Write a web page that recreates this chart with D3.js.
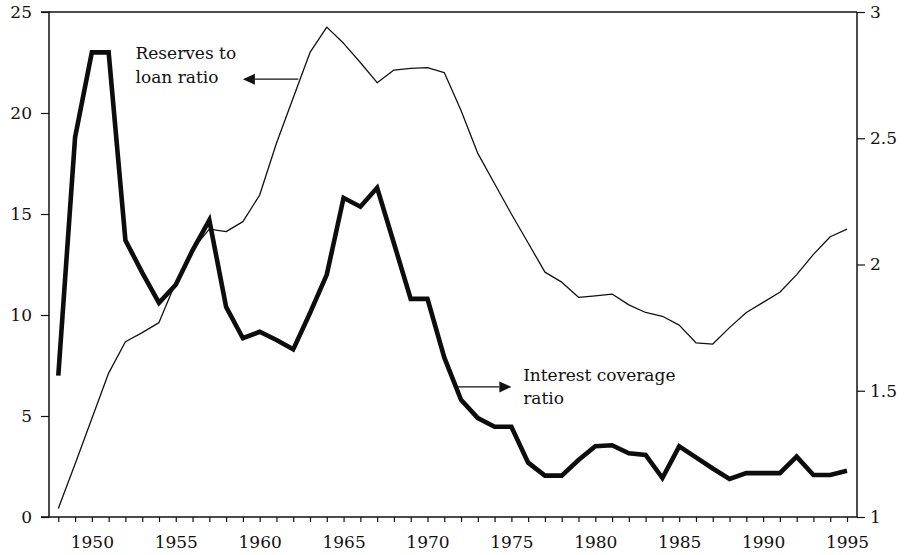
<!DOCTYPE html>
<html>
<head>
<meta charset="utf-8">
<script src="https://cdn.jsdelivr.net/npm/d3@7"></script>
<style>
  html, body { margin: 0; padding: 0; background: #fff; }
  svg text { font-family: "DejaVu Serif", "Liberation Serif", serif; fill: #111; }
</style>
</head>
<body>
<svg id="chart" width="905" height="555"></svg>
<script>
// Years covered by both series
const years = d3.range(1948, 1996);

// Interest coverage ratio (left axis, thick line)
const interestCoverage = [
  7.0, 18.8, 23.0, 23.0, 13.7, 12.1, 10.6, 11.5, 13.2, 14.7,
  10.4, 8.85, 9.17, 8.76, 8.3, 10.1, 12.0, 15.8, 15.36, 16.3,
  13.55, 10.8, 10.8, 7.9, 5.8, 4.9, 4.47, 4.47, 2.69, 2.05,
  2.05, 2.82, 3.5, 3.55, 3.15, 3.07, 1.93, 3.5, 2.95, 2.4,
  1.88, 2.17, 2.17, 2.17, 2.99, 2.08, 2.08, 2.29
];

// Reserves to loan ratio (right axis, thin line)
const reservesToLoan = [
  1.034, 1.21, 1.39, 1.57, 1.694, 1.73, 1.77, 1.93, 2.06, 2.14,
  2.13, 2.17, 2.275, 2.48, 2.66, 2.84, 2.94, 2.876, 2.80, 2.72,
  2.77, 2.777, 2.78, 2.76, 2.61, 2.44, 2.32, 2.20, 2.085, 1.97,
  1.93, 1.87, 1.876, 1.883, 1.84, 1.81, 1.795, 1.76, 1.69, 1.685,
  1.75, 1.81, 1.85, 1.89, 1.96, 2.04, 2.11, 2.14
];

// Tick values
const leftTicks = [0, 5, 10, 15, 20, 25];
const rightTicks = [1, 1.5, 2, 2.5, 3];
const yearLabels = [1950, 1955, 1960, 1965, 1970, 1975, 1980, 1985, 1990, 1995];

const svg = d3.select("#chart");

const x = d3.scaleLinear().domain([1948, 1995]).range([58.3, 847]);
const yLeft = d3.scaleLinear().domain([0, 25]).range([517, 12]);
const yRight = d3.scaleLinear().domain([1, 3]).range([517, 12]);

const plotLeft = 49, plotRight = 857, plotTop = 12, plotBottom = 517;

// Frame: top border line
svg.append("line")
  .attr("x1", plotLeft).attr("x2", plotRight)
  .attr("y1", plotTop).attr("y2", plotTop)
  .attr("stroke", "#111").attr("stroke-width", 1.5);

// Left axis
const gLeft = svg.append("g")
  .attr("transform", `translate(${plotLeft},0)`)
  .call(d3.axisLeft(yLeft).tickValues(leftTicks).tickSize(8).tickPadding(9).tickFormat(d3.format("d")));

// Right axis
const gRight = svg.append("g")
  .attr("transform", `translate(${plotRight},0)`)
  .call(d3.axisRight(yRight).tickValues(rightTicks).tickSize(8).tickPadding(5)
    .tickFormat(d => Number.isInteger(d) ? String(d) : d.toFixed(1)));

// Bottom axis: a tick every year, labels every five years
const gBottom = svg.append("g")
  .attr("transform", `translate(0,${plotBottom})`)
  .call(d3.axisBottom(x).tickValues(years).tickSize(5)
    .tickFormat(d => yearLabels.includes(d) ? String(d) : ""));

[gLeft, gRight, gBottom].forEach(g => {
  g.select(".domain").attr("stroke", "#111").attr("stroke-width", 1.5);
  g.selectAll(".tick line").attr("stroke", "#111").attr("stroke-width", 1.2);
  g.selectAll(".tick text")
    .attr("font-family", "DejaVu Serif, serif")
    .attr("font-size", 17)
    .attr("fill", "#111");
});
gBottom.select(".domain").attr("d", `M${plotLeft},0H${plotRight}`);
gBottom.selectAll(".tick text").attr("y", 31).attr("dy", 0);

// Left axis runs the full height, with the end ticks reaching out to the left
gLeft.select(".domain").attr("d", `M-8,${plotBottom}H0V${plotTop}H-8`);
gRight.select(".domain").attr("d", `M0,${plotBottom}V${plotTop}`);

// Series lines
const lineRes = d3.line()
  .x((d, i) => x(years[i]))
  .y(d => yRight(d));
const lineCov = d3.line()
  .x((d, i) => x(years[i]))
  .y(d => yLeft(d));

svg.append("path")
  .datum(reservesToLoan)
  .attr("d", lineRes)
  .attr("fill", "none")
  .attr("stroke", "#111")
  .attr("stroke-width", 1.3)
  .attr("stroke-linejoin", "round");

svg.append("path")
  .datum(interestCoverage)
  .attr("d", lineCov)
  .attr("fill", "none")
  .attr("stroke", "#0d0d0d")
  .attr("stroke-width", 4.6)
  .attr("stroke-linejoin", "miter")
  .attr("stroke-miterlimit", 3)
  .attr("stroke-linecap", "butt");

// Annotations with arrows
function arrow(x1, y1, x2, y2) {
  const dir = Math.sign(x2 - x1);
  const headLen = 12, headHalf = 5.5;
  svg.append("line")
    .attr("x1", x1).attr("y1", y1)
    .attr("x2", x2 - dir * headLen).attr("y2", y2)
    .attr("stroke", "#111").attr("stroke-width", 1.2);
  svg.append("path")
    .attr("d", `M${x2},${y2}L${x2 - dir * headLen},${y2 - headHalf}L${x2 - dir * headLen},${y2 + headHalf}Z`)
    .attr("fill", "#111");
}

// Reserves to loan ratio label
const resLabelX = x(1952.6);
svg.append("text").attr("x", resLabelX).attr("y", yRight(2.815)).attr("font-size", 17).text("Reserves to");
svg.append("text").attr("x", resLabelX).attr("y", yRight(2.72)).attr("font-size", 17).text("loan ratio");
arrow(x(1962.3), yRight(2.734), x(1959.0), yRight(2.734));

// Interest coverage ratio label
const covLabelX = x(1975.7);
svg.append("text").attr("x", covLabelX).attr("y", yLeft(6.71)).attr("font-size", 17).text("Interest coverage");
svg.append("text").attr("x", covLabelX).attr("y", yLeft(5.6)).attr("font-size", 17).text("ratio");
arrow(x(1971.75), yLeft(6.44), x(1975.0), yLeft(6.44));
</script>
</body>
</html>
